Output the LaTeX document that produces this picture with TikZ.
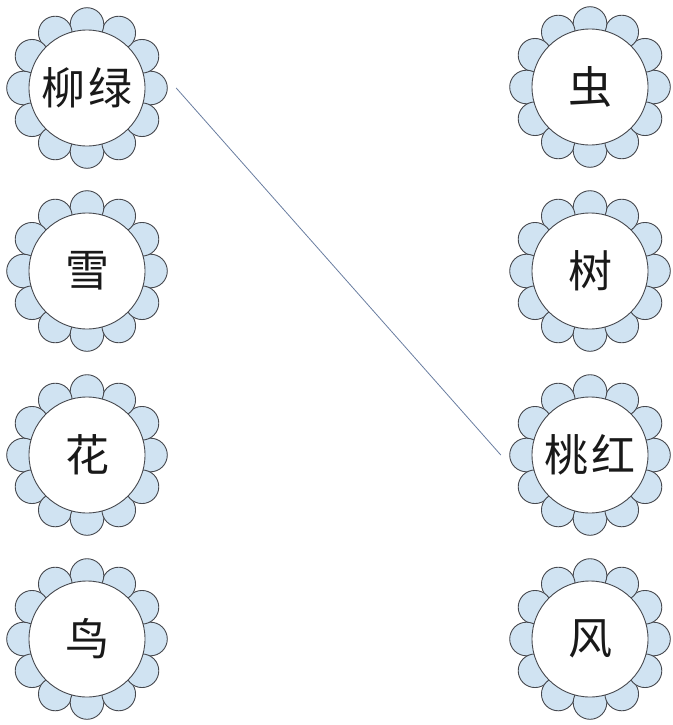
\documentclass[tikz,border=0pt]{standalone}
\usepackage{fontspec}
\newfontfamily\cjk{Noto Sans CJK SC}
\usetikzlibrary{calc}
\definecolor{petalfill}{RGB}{208,227,242}
\definecolor{petalline}{RGB}{70,72,78}
\definecolor{linkline}{RGB}{105,125,160}
\tikzset{
  petal/.style={fill=petalfill, draw=petalline, line width=0.9pt},
  flower/.style={circle, minimum size=178pt, inner sep=0pt,
    font=\cjk\fontsize{44}{44}\selectfont, text=black!90,
    path picture={
      \foreach \a in {0,30,...,330}
        \filldraw[petal] ($(path picture bounding box.center)+(\a:63.5pt)$) circle (16.8pt);
      \filldraw[fill=white, draw=petalline, line width=0.9pt]
        (path picture bounding box.center) circle (58pt);
    }},
  link/.style={draw=linkline, line width=0.8pt}
}
\begin{document}
\begin{tikzpicture}[x=1pt,y=-1pt]
  \useasboundingbox (0,0) rectangle (672,725);
  \node[flower] (liulv) at (87,88) {柳\hspace{4pt}绿};
  \node[flower] (xue)  at (87,271) {雪};
  \node[flower] (hua)  at (87,455) {花};
  \node[flower] (niao) at (87,639) {鸟};
  \node[flower] (chong) at (590,87) {虫};
  \node[flower] (shu)   at (590,271) {树};
  \node[flower] (taohong) at (590,455) {桃\hspace{4pt}红};
  \node[flower] (feng)  at (590,639) {风};
  \draw[link] (liulv.east) -- (taohong.west);
\end{tikzpicture}
\end{document}
